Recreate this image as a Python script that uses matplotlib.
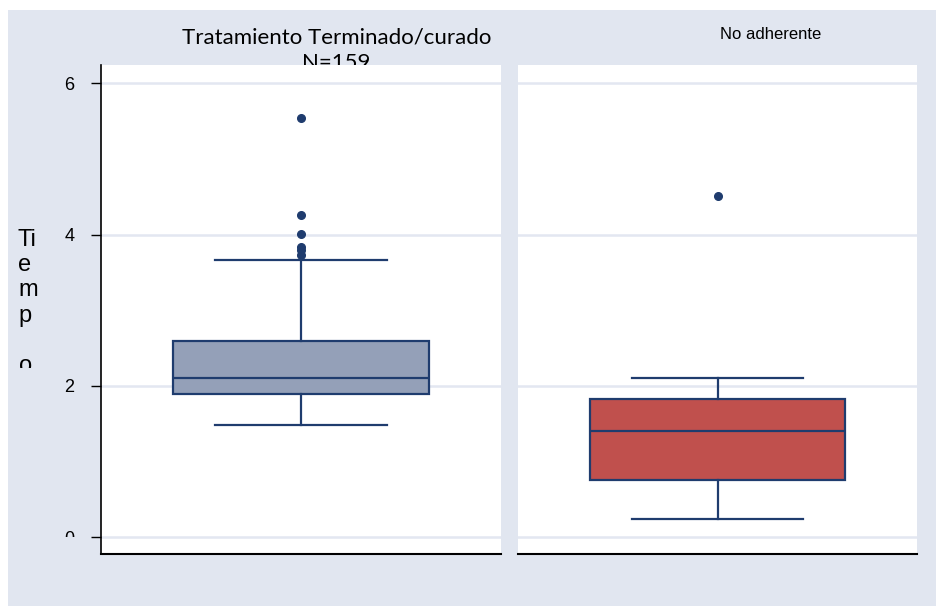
import matplotlib
matplotlib.use("Agg")
import matplotlib.pyplot as plt
from matplotlib.patches import Rectangle
from matplotlib.transforms import Bbox, TransformedBbox

# box summaries
groups = ["Tratamiento Terminado/curado\nN=159", "No adherente"]
q1 = [1.90, 0.76]
medians = [2.10, 1.41]
q3 = [2.60, 1.83]
whislo = [1.49, 0.24]
whishi = [3.67, 2.10]
fliers = [[5.54, 4.26, 4.01, 3.84, 3.79, 3.73], [4.51]]
fills = ["#94a0b8", "#c0504d"]
yticks = [0, 2, 4, 6]

edge = "#1f3c6e"
bg = "#e1e6f0"
grid_c = "#e3e7f1"

W, H = 936, 606
fig = plt.figure(figsize=(W / 100, H / 100), dpi=100)
fig.patch.set_facecolor("white")
fig.patches.append(Rectangle((8 / W, 0), 1 - 8 / W, 1 - 10 / H, transform=fig.transFigure,
                             facecolor=bg, edgecolor="none", zorder=-2))


def fx(px):
    return px / W


def fy(py):
    return 1 - py / H


ax_top, ax_bot = 65, 554
panels = [(101, 501), (518, 917)]
axes = []
for i, (x0, x1) in enumerate(panels):
    ax = fig.add_axes([fx(x0), fy(ax_bot), (x1 - x0) / W, (ax_bot - ax_top) / H])
    stats = [dict(med=medians[i], q1=q1[i], q3=q3[i], whislo=whislo[i], whishi=whishi[i],
                  fliers=fliers[i])]
    ax.bxp(stats, positions=[1], widths=0.64, patch_artist=True, capwidths=0.43,
           boxprops=dict(facecolor=fills[i], edgecolor=edge, linewidth=1.6),
           medianprops=dict(color=edge, linewidth=1.6),
           whiskerprops=dict(color=edge, linewidth=1.6),
           capprops=dict(color=edge, linewidth=1.6),
           flierprops=dict(marker="o", markerfacecolor=edge, markeredgecolor=edge, markersize=5.5))
    ax.set_xlim(0.5, 1.5)
    ax.set_ylim(-0.22, 6.24)
    ax.set_yticks(yticks)
    ax.yaxis.grid(True, color=grid_c, linewidth=1.8)
    ax.set_axisbelow(True)
    ax.set_xticks([])
    for s in ["top", "right"]:
        ax.spines[s].set_visible(False)
    ax.spines["bottom"].set_linewidth(1.5)
    if i == 0:
        ax.spines["left"].set_linewidth(1.2)
        ax.tick_params(axis="y", length=7, width=1, labelsize=13, pad=12)
        for lab in ax.get_yticklabels():
            lab.set_fontfamily("Liberation Sans")
    else:
        ax.spines["left"].set_visible(False)
        ax.tick_params(axis="y", length=0, labelleft=False)
    axes.append(ax)

# panel titles, drawn under the panels so the white area cuts the second line
fig.text(fx(336.5), fy(27), groups[0], ha="center", va="top", fontsize=16,
         family="Lato", linespacing=1.35, zorder=-1)
fig.text(fx(771), fy(39), groups[1], ha="center", va="baseline", fontsize=12,
         family="Liberation Sans")

# y title, stacked, last letter cut off
fig.text(fx(18), fy(229), "Ti\ne\nm\np", ha="left", va="top", fontsize=17,
         family="Liberation Sans", linespacing=1.19)
clip_t = TransformedBbox(Bbox.from_extents(0, fy(368), 1, 1), fig.transFigure)
t = fig.text(fx(19), fy(355), "o", ha="left", va="top", fontsize=17,
             family="Liberation Sans")
t.set_clip_box(clip_t)
t.set_clip_on(True)

fig.canvas.draw()
clip_0 = TransformedBbox(Bbox.from_extents(0, fy(537), 1, 1), fig.transFigure)
for lab in axes[0].get_yticklabels():
    if lab.get_text() == "0":
        lab.set_clip_box(clip_0)
        lab.set_clip_on(True)

fig.savefig("out.png", dpi=100)
